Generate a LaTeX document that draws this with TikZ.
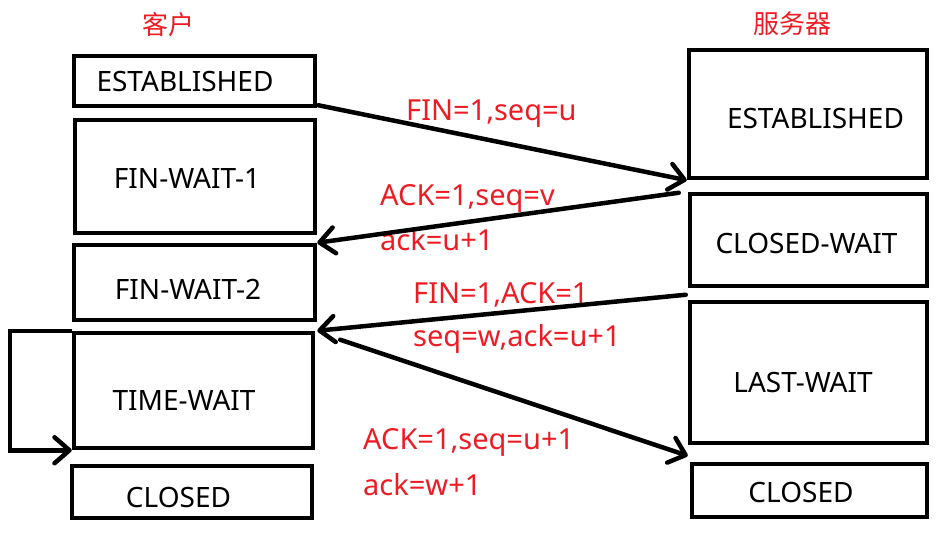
\documentclass[tikz,border=0pt]{standalone}
\usepackage{fontspec}
\setmainfont{Noto Sans}
\newfontfamily\cjk{Noto Sans CJK SC}
\usetikzlibrary{arrows.meta}
\definecolor{pred}{RGB}{237,28,36}
\begin{document}
\begin{tikzpicture}[x=1pt,y=-1pt,
  box/.style={draw=black,line width=4.5pt,inner sep=0pt,minimum width=#1},
  box/.default=240pt,
  stxt/.style={font=\fontsize{28}{31}\selectfont,anchor=base,inner sep=0pt},
  rtxt/.style={font=\fontsize{29}{32}\selectfont,text=pred,anchor=base west,inner sep=0pt},
  ttl/.style={font=\cjk\fontsize{26}{29}\selectfont,text=pred,inner sep=0pt},
  msg/.style={line width=4.5pt,line cap=round,-{Straight Barb[length=15pt,width=26pt,line cap=round,line join=round]}}]
\useasboundingbox (0,0) rectangle (950,540);
% titles
\node[ttl] (tc) at (168,25) {客户};
\node[ttl] (ts) at (792,24) {服务器};
% client boxes
\node[box=241pt,minimum height=50pt]  (cE)  at (194.5,81) {};
\node[box=240pt,minimum height=113pt] (cF1) at (195,176.5) {};
\node[box=241pt,minimum height=75pt]  (cF2) at (194.5,282.5) {};
\node[box=239pt,minimum height=115pt] (cT)  at (193.5,390.5) {};
\node[box=240pt,minimum height=52pt]  (cC)  at (192,492) {};
% server boxes
\node[box=238pt,minimum height=128pt] (sE)  at (808,114) {};
\node[box=237pt,minimum height=92pt]  (sCW) at (808.5,240) {};
\node[box=237pt,minimum height=141pt] (sLW) at (808.5,372.5) {};
\node[box=235pt,minimum height=53pt]  (sC)  at (809.5,490.5) {};
% state texts
\node[stxt] (lcE)  at (185,92)  {ESTABLISHED};
\node[stxt] (lcF1) at (187,189) {FIN-WAIT-1};
\node[stxt] (lcF2) at (188,299) {FIN-WAIT-2};
\node[stxt] (lcT)  at (184,410) {TIME-WAIT};
\node[stxt] (lcC)  at (178.5,507) {CLOSED};
\node[stxt] (lsE)  at (815.5,129) {ESTABLISHED};
\node[stxt] (lsCW) at (806.5,253) {CLOSED-WAIT};
\node[stxt] (lsLW) at (803,392) {LAST-WAIT};
\node[stxt] (lsC)  at (801,502) {CLOSED};
% message labels
\node[rtxt] (m1)  at (406,121) {FIN=1,seq=u};
\node[rtxt] (m2a) at (380,206) {ACK=1,seq=v};
\node[rtxt] (m2b) at (380,251) {ack=u+1};
\node[rtxt] (m3a) at (413,303) {FIN=1,ACK=1};
\node[rtxt] (m3b) at (413,346) {seq=w,ack=u+1};
\node[rtxt] (m4a) at (363,449) {ACK=1,seq=u+1};
\node[rtxt] (m4b) at (363,495) {ack=w+1};
% messages
\draw[msg] ([shift={(1,-3)}]cE.south east) -- (sE.south west);
\draw[msg] ([shift={(-9,1)}]sCW.north west) -- (cF2.north east);
\draw[msg] ([shift={(-2,-5)}]sLW.north west) -- ([shift={(2,0)}]cT.north east);
\draw[msg] ([shift={(25,9)}]cT.north east) -- ([shift={(-2,-6)}]sC.north west);
% time-wait loop
\draw[msg,line cap=butt] (cT.north west) -- ++(-62,0) |- (cT.south west);
\end{tikzpicture}
\end{document}
